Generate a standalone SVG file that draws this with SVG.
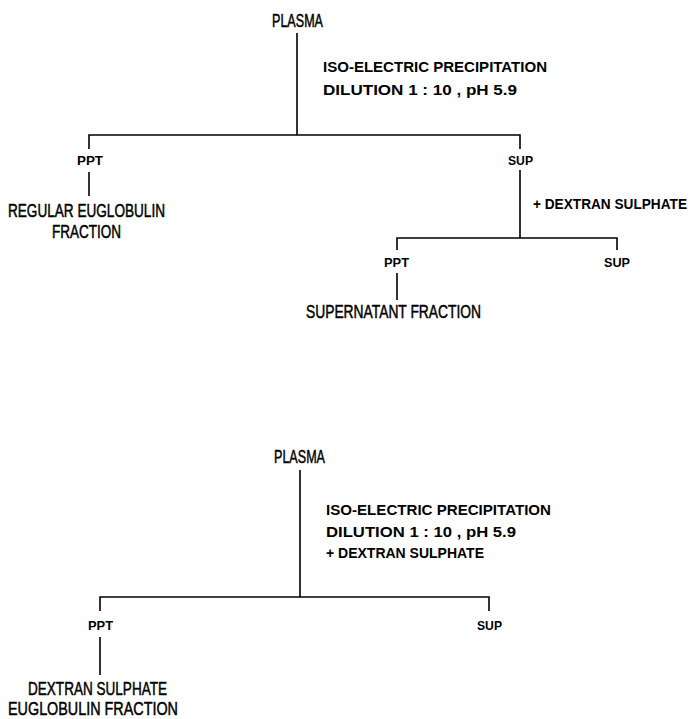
<svg xmlns="http://www.w3.org/2000/svg" width="691" height="719" viewBox="0 0 691 719">
<style>
.big{font-family:"Liberation Sans",Arial,sans-serif;font-size:19px;fill:#000;stroke:#000;stroke-width:0.5}
.mid{font-family:"Liberation Sans",Arial,sans-serif;font-size:14px;font-weight:bold;fill:#000}
.sm{font-family:"Liberation Sans",Arial,sans-serif;font-size:13px;font-weight:bold;fill:#000}
.ln{stroke:#000;stroke-width:1.6;fill:none}
</style>
<rect width="691" height="719" fill="#fff"/>
<g id="connectors" class="ln">
<path d="M297 33V135M89 149V135H520V149M89 172V196M520 170V238M397 250V238H617V250M397 273V300"/>
<path d="M300 470V597M100 611V597H489V611M100 637V675"/>
</g>
<g id="plasma1"><text class="big" x="272" y="27" textLength="51" lengthAdjust="spacingAndGlyphs">PLASMA</text></g>
<g id="step1"><text class="mid" x="323" y="72" textLength="224" lengthAdjust="spacingAndGlyphs">ISO-ELECTRIC PRECIPITATION</text>
<text class="mid" x="323" y="95" textLength="194" lengthAdjust="spacingAndGlyphs">DILUTION 1 : 10 , pH 5.9</text></g>
<g id="ppt1"><text class="sm" x="77" y="165" textLength="26" lengthAdjust="spacingAndGlyphs">PPT</text></g>
<g id="sup1"><text class="sm" x="508" y="165" textLength="25" lengthAdjust="spacingAndGlyphs">SUP</text></g>
<g id="regular"><text class="big" x="8" y="217" textLength="157" lengthAdjust="spacingAndGlyphs">REGULAR EUGLOBULIN</text>
<text class="big" x="52" y="238" textLength="69" lengthAdjust="spacingAndGlyphs">FRACTION</text></g>
<g id="step2"><text class="mid" x="533" y="209" textLength="154" lengthAdjust="spacingAndGlyphs">+ DEXTRAN SULPHATE</text></g>
<g id="ppt2"><text class="sm" x="384" y="267" textLength="25" lengthAdjust="spacingAndGlyphs">PPT</text></g>
<g id="sup2"><text class="sm" x="604" y="267" textLength="26" lengthAdjust="spacingAndGlyphs">SUP</text></g>
<g id="supernatant"><text class="big" x="306" y="318" textLength="175" lengthAdjust="spacingAndGlyphs">SUPERNATANT FRACTION</text></g>
<g id="plasma2"><text class="big" x="274" y="463" textLength="51" lengthAdjust="spacingAndGlyphs">PLASMA</text></g>
<g id="step3"><text class="mid" x="326" y="515" textLength="225" lengthAdjust="spacingAndGlyphs">ISO-ELECTRIC PRECIPITATION</text>
<text class="mid" x="326" y="537" textLength="190" lengthAdjust="spacingAndGlyphs">DILUTION 1 : 10 , pH 5.9</text>
<text class="mid" x="326" y="558" textLength="158" lengthAdjust="spacingAndGlyphs">+ DEXTRAN SULPHATE</text></g>
<g id="ppt3"><text class="sm" x="88" y="630" textLength="25" lengthAdjust="spacingAndGlyphs">PPT</text></g>
<g id="sup3"><text class="sm" x="477" y="630" textLength="25" lengthAdjust="spacingAndGlyphs">SUP</text></g>
<g id="dsfraction"><text class="big" x="28" y="695" textLength="139" lengthAdjust="spacingAndGlyphs">DEXTRAN SULPHATE</text>
<text class="big" x="8" y="715" textLength="170" lengthAdjust="spacingAndGlyphs">EUGLOBULIN FRACTION</text></g>
</svg>
